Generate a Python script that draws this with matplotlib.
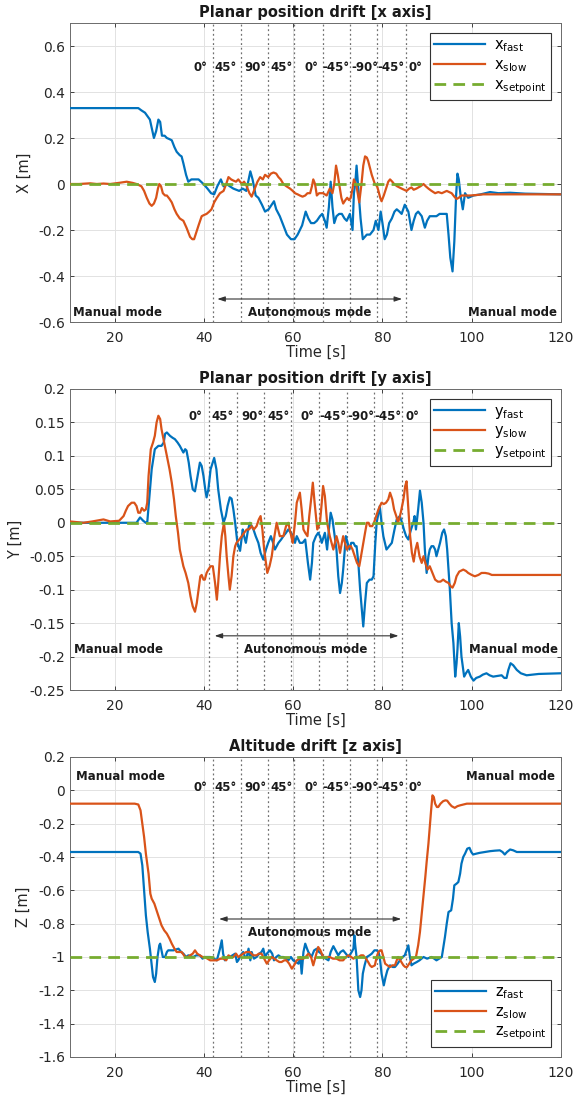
import matplotlib
matplotlib.use("Agg")
import matplotlib.pyplot as plt

plt.rcParams['font.family'] = ['DejaVu Sans']
plt.rcParams['axes.unicode_minus'] = False

# ---------------- data: panel 1 (x axis) ----------------
x_fast_t = [10, 25.3, 26.0, 26.8, 27.9, 28.8, 29.3, 29.8, 30.2, 30.6, 31.2, 31.7, 32.3, 32.8, 33.4, 33.9, 34.6, 35.0, 35.4, 36.0, 36.5, 37.2, 37.8, 38.8, 39.9, 40.8, 41.6, 42.3, 43.0, 43.8, 44.4, 45.1, 45.8, 46.6, 47.9, 48.7, 49.5, 50.4, 50.9, 51.6, 52.2, 53.0, 53.7, 54.5, 55.2, 55.7, 56.2, 57.0, 57.8, 58.6, 59.5, 60.3, 61.0, 61.5, 62.0, 62.8, 63.4, 64.0, 64.7, 65.3, 66.0, 66.5, 67.1, 67.5, 68.0, 68.4, 68.8, 69.2, 69.7, 70.3, 70.9, 71.5, 72.0, 72.7, 73.3, 73.6, 73.9, 74.2, 74.7, 75.1, 75.6, 76.5, 77.2, 78.0, 78.5, 79.1, 79.6, 80.0, 80.5, 81.0, 81.5, 82.1, 82.7, 83.2, 83.8, 84.3, 85.0, 85.8, 86.5, 87.0, 87.5, 88.0, 88.8, 89.5, 90.0, 90.6, 91.3, 92.1, 92.8, 93.6, 94.4, 94.8, 95.2, 95.7, 96.1, 96.5, 96.8, 97.1, 97.5, 98.0, 98.5, 99.2, 100.4, 102.0, 104.1, 106.0, 108.6, 112, 120]
x_fast_v = [0.33, 0.33, 0.32, 0.31, 0.28, 0.20, 0.23, 0.28, 0.27, 0.21, 0.21, 0.20, 0.195, 0.19, 0.16, 0.14, 0.125, 0.12, 0.09, 0.04, 0.01, 0.02, 0.02, 0.02, 0.0, -0.02, -0.04, -0.045, -0.01, 0.02, -0.01, 0.0, -0.01, -0.02, -0.03, -0.02, -0.03, 0.055, 0.02, -0.05, -0.06, -0.09, -0.12, -0.11, -0.09, -0.075, -0.11, -0.14, -0.18, -0.22, -0.24, -0.24, -0.22, -0.20, -0.18, -0.12, -0.15, -0.17, -0.17, -0.16, -0.14, -0.13, -0.16, -0.19, -0.1, 0.01, -0.1, -0.17, -0.14, -0.13, -0.13, -0.15, -0.16, -0.13, -0.2, -0.04, 0.0, 0.08, -0.05, -0.15, -0.24, -0.22, -0.22, -0.2, -0.16, -0.2, -0.12, -0.17, -0.24, -0.22, -0.17, -0.15, -0.12, -0.11, -0.12, -0.13, -0.09, -0.12, -0.2, -0.16, -0.13, -0.12, -0.14, -0.19, -0.16, -0.14, -0.14, -0.14, -0.13, -0.13, -0.13, -0.22, -0.32, -0.38, -0.25, -0.05, 0.045, 0.02, -0.05, -0.11, -0.04, -0.06, -0.05, -0.045, -0.035, -0.04, -0.038, -0.042, -0.045]

x_slow_t = [10, 12, 14.5, 16, 17.5, 19, 21, 22.7, 24.0, 24.9, 26.0, 26.6, 27.2, 27.8, 28.3, 28.8, 29.3, 29.7, 30.0, 30.4, 30.8, 31.3, 31.7, 32.3, 32.8, 33.4, 33.9, 34.6, 35.4, 36.1, 36.9, 37.4, 37.8, 38.3, 38.8, 39.5, 40.0, 40.6, 41.2, 41.7, 42.3, 42.9, 43.6, 44.4, 45.0, 45.5, 46.1, 46.6, 47.2, 47.7, 48.5, 49.0, 49.6, 50.2, 50.7, 51.4, 52.0, 52.6, 53.2, 53.7, 54.4, 55.0, 55.6, 56.2, 56.7, 57.2, 57.8, 58.5, 59.3, 59.9, 60.4, 61.0, 61.5, 62.1, 62.7, 63.2, 63.8, 64.2, 64.5, 64.9, 65.3, 65.8, 66.7, 67.5, 68.2, 68.8, 69.2, 69.6, 70.0, 70.3, 70.8, 71.2, 71.7, 72.1, 72.5, 72.9, 73.3, 73.6, 74.2, 74.8, 75.3, 75.7, 76.1, 76.5, 76.8, 77.2, 77.6, 78.3, 78.8, 79.1, 79.5, 79.8, 80.3, 80.8, 81.3, 81.7, 82.2, 82.6, 83.3, 84.3, 85.4, 86.0, 86.5, 87.0, 87.6, 88.5, 89.2, 89.7, 90.3, 91.0, 91.8, 92.5, 93.3, 94.4, 95.5, 96.1, 96.6, 97.1, 97.7, 98.6, 99.6, 101, 102.6, 110, 120]
x_slow_v = [0.0, 0.0, 0.003, 0.0, 0.002, 0.0, 0.005, 0.01, 0.005, 0.0, -0.01, -0.03, -0.06, -0.085, -0.095, -0.085, -0.06, -0.02, 0.0, -0.01, -0.04, -0.05, -0.05, -0.065, -0.08, -0.11, -0.13, -0.15, -0.16, -0.19, -0.23, -0.24, -0.24, -0.21, -0.18, -0.14, -0.135, -0.13, -0.12, -0.11, -0.08, -0.06, -0.04, -0.03, 0.0, 0.03, 0.02, 0.015, 0.01, 0.02, 0.0, 0.01, -0.01, -0.04, -0.055, -0.02, 0.01, 0.03, 0.02, 0.04, 0.03, 0.045, 0.05, 0.045, 0.03, 0.02, 0.0, -0.01, -0.02, -0.03, -0.04, -0.045, -0.05, -0.055, -0.05, -0.04, -0.04, -0.01, 0.02, 0.0, -0.05, -0.04, -0.04, -0.05, -0.02, -0.04, 0.0, 0.08, 0.04, 0.0, -0.06, -0.085, -0.07, -0.06, -0.07, -0.06, -0.02, 0.02, -0.01, -0.08, 0.0, 0.08, 0.12, 0.115, 0.10, 0.07, 0.04, 0.0, -0.01, -0.03, -0.06, -0.075, -0.05, -0.02, 0.01, 0.02, 0.01, 0.0, -0.01, -0.02, -0.03, -0.02, -0.015, -0.025, -0.02, -0.01, 0.0, -0.01, -0.02, -0.03, -0.04, -0.035, -0.04, -0.03, -0.04, -0.055, -0.065, -0.06, -0.05, -0.05, -0.05, -0.048, -0.045, -0.045, -0.045]

# ---------------- data: panel 2 (y axis) ----------------
y_fast_t = [10, 14, 18, 22, 24.9, 25.7, 26.4, 27.0, 27.3, 27.8, 28.3, 29.0, 29.8, 30.5, 31.0, 31.3, 31.7, 32.4, 33.0, 33.5, 34.1, 34.6, 35.4, 35.8, 36.1, 36.6, 37.0, 37.5, 38.0, 38.6, 39.1, 39.5, 39.9, 40.3, 40.6, 41.0, 41.5, 42.3, 42.8, 43.2, 43.8, 44.4, 44.9, 45.3, 45.8, 46.2, 46.6, 47.0, 47.5, 48.1, 48.7, 49.0, 49.4, 49.9, 50.3, 50.7, 51.1, 51.6, 52.2, 52.7, 53.3, 53.9, 54.4, 55.0, 55.5, 55.9, 56.3, 56.7, 57.3, 57.8, 58.4, 58.9, 59.5, 60.0, 60.4, 60.8, 61.5, 62.1, 62.7, 63.3, 63.8, 64.2, 64.5, 65.1, 65.6, 66.0, 66.4, 67.1, 67.6, 68.0, 68.4, 68.8, 69.1, 69.7, 70.1, 70.5, 70.9, 71.2, 71.8, 72.2, 72.6, 73.0, 73.5, 73.9, 74.2, 74.6, 75.0, 75.7, 76.1, 76.5, 77.1, 77.6, 78.0, 78.4, 78.7, 79.4, 79.8, 80.2, 80.9, 81.5, 82.1, 82.7, 83.2, 83.9, 84.4, 84.8, 85.3, 85.8, 86.4, 86.9, 87.2, 87.5, 88.0, 88.4, 88.8, 89.2, 89.5, 89.9, 90.3, 90.6, 91.0, 91.4, 91.8, 92.1, 92.5, 92.9, 93.4, 93.8, 94.2, 94.5, 95.1, 95.5, 95.9, 96.3, 96.6, 96.8, 97.1, 97.4, 97.7, 98.3, 98.7, 99.2, 99.8, 100.4, 101.0, 101.8, 102.5, 103.3, 104.0, 104.8, 105.7, 106.7, 107.3, 107.8, 108.2, 108.7, 109.3, 110.1, 111.0, 112.3, 115, 120]
y_fast_v = [0.0, 0.0, 0.0, 0.0, 0.0, 0.008, 0.003, 0.0, 0.0, 0.04, 0.08, 0.11, 0.115, 0.115, 0.12, 0.133, 0.135, 0.13, 0.127, 0.125, 0.12, 0.115, 0.105, 0.11, 0.108, 0.09, 0.07, 0.05, 0.047, 0.07, 0.09, 0.085, 0.07, 0.05, 0.038, 0.05, 0.08, 0.097, 0.08, 0.05, 0.02, 0.0, 0.01, 0.025, 0.038, 0.036, 0.02, 0.0, -0.03, -0.042, -0.01, -0.02, -0.03, -0.01, 0.0, -0.005, -0.01, -0.02, -0.03, -0.045, -0.055, -0.04, -0.03, -0.02, -0.03, -0.04, -0.035, -0.03, -0.025, -0.02, -0.015, -0.01, -0.015, -0.02, -0.03, -0.02, -0.03, -0.03, -0.025, -0.06, -0.085, -0.06, -0.03, -0.02, -0.015, -0.02, -0.03, -0.015, -0.04, -0.01, 0.015, 0.005, -0.01, -0.04, -0.08, -0.105, -0.09, -0.07, -0.02, -0.03, -0.04, -0.03, -0.03, -0.035, -0.035, -0.06, -0.1, -0.155, -0.12, -0.09, -0.085, -0.085, -0.08, -0.03, 0.0, 0.025, 0.0, -0.02, -0.04, -0.035, -0.03, -0.01, 0.005, 0.01, 0.0, -0.01, -0.02, -0.025, -0.01, 0.0, 0.01, -0.01, 0.02, 0.048, 0.03, 0.0, -0.04, -0.075, -0.05, -0.04, -0.035, -0.035, -0.04, -0.05, -0.04, -0.03, -0.015, -0.01, -0.02, -0.04, -0.1, -0.15, -0.18, -0.23, -0.21, -0.19, -0.15, -0.17, -0.2, -0.23, -0.225, -0.22, -0.23, -0.236, -0.232, -0.23, -0.227, -0.225, -0.228, -0.23, -0.229, -0.228, -0.232, -0.232, -0.22, -0.21, -0.213, -0.22, -0.225, -0.228, -0.226, -0.225]

y_slow_t = [10, 13, 15, 17.5, 19, 21, 22.0, 22.5, 23.0, 23.8, 24.4, 24.9, 25.3, 25.7, 26.1, 26.6, 27.0, 27.3, 27.6, 28.1, 28.6, 29.0, 29.4, 29.8, 30.2, 30.5, 31.1, 31.7, 32.3, 32.8, 33.3, 33.7, 34.2, 34.6, 35.4, 35.9, 36.5, 37.0, 37.5, 38.0, 38.4, 38.8, 39.2, 39.5, 39.9, 40.2, 40.6, 41.0, 41.5, 42.0, 42.5, 42.9, 43.2, 43.6, 44.0, 44.5, 44.8, 45.1, 45.5, 45.8, 46.2, 46.6, 47.0, 47.3, 47.9, 48.5, 49.0, 49.6, 50.1, 50.7, 51.2, 51.8, 52.3, 52.7, 53.1, 53.5, 54.2, 54.7, 55.2, 55.8, 56.3, 57.0, 57.8, 58.4, 58.9, 59.4, 59.9, 60.4, 60.8, 61.5, 61.9, 62.3, 62.7, 63.2, 63.6, 64.1, 64.4, 64.8, 65.4, 66.0, 66.4, 66.7, 67.1, 67.6, 68.2, 68.6, 69.0, 69.7, 70.1, 70.5, 70.9, 71.2, 71.6, 72.0, 72.5, 72.9, 73.3, 73.8, 74.3, 74.8, 75.2, 75.7, 76.1, 76.5, 76.9, 77.2, 77.7, 78.1, 78.6, 79.1, 79.8, 80.3, 80.8, 81.3, 81.7, 82.2, 82.6, 83.1, 83.5, 84.1, 84.7, 85.1, 85.4, 85.8, 86.2, 86.6, 87.0, 87.4, 87.8, 88.3, 88.8, 89.2, 89.6, 90.1, 90.6, 91.2, 91.8, 92.4, 93.0, 93.6, 94.2, 94.8, 95.3, 95.7, 96.2, 96.6, 97.2, 98.1, 98.7, 99.2, 100.0, 100.7, 101.5, 102.2, 103.0, 103.8, 104.5, 110, 120]
y_slow_v = [0.002, 0.0, 0.002, 0.005, 0.002, 0.003, 0.01, 0.018, 0.025, 0.03, 0.03, 0.025, 0.015, 0.015, 0.022, 0.018, 0.02, 0.03, 0.07, 0.11, 0.12, 0.13, 0.15, 0.16, 0.155, 0.14, 0.12, 0.10, 0.08, 0.06, 0.035, 0.01, -0.015, -0.04, -0.065, -0.075, -0.09, -0.11, -0.125, -0.133, -0.12, -0.1, -0.08, -0.078, -0.085, -0.085, -0.075, -0.07, -0.065, -0.065, -0.09, -0.115, -0.09, -0.05, -0.02, 0.0, -0.02, -0.05, -0.08, -0.1, -0.08, -0.05, -0.035, -0.03, -0.025, -0.02, -0.015, -0.01, -0.01, -0.005, -0.01, -0.005, 0.005, 0.01, -0.01, -0.04, -0.075, -0.065, -0.05, -0.02, 0.0, -0.02, -0.02, -0.005, 0.0, -0.015, -0.03, 0.0, 0.03, 0.045, 0.02, -0.01, -0.015, -0.02, 0.01, 0.04, 0.06, 0.03, -0.01, 0.0, 0.03, 0.055, 0.04, 0.0, -0.02, -0.03, -0.04, -0.02, -0.03, -0.045, -0.03, -0.02, -0.03, -0.04, -0.035, -0.035, -0.04, -0.05, -0.06, -0.065, -0.05, -0.03, -0.015, 0.0, 0.0, -0.005, -0.005, 0.0, 0.01, 0.02, 0.03, 0.028, 0.03, 0.035, 0.045, 0.035, 0.02, 0.01, 0.0, 0.015, 0.035, 0.055, 0.062, 0.02, -0.02, -0.045, -0.058, -0.04, -0.03, -0.05, -0.06, -0.05, -0.06, -0.07, -0.065, -0.075, -0.085, -0.088, -0.088, -0.085, -0.088, -0.09, -0.095, -0.097, -0.09, -0.08, -0.073, -0.07, -0.072, -0.075, -0.078, -0.08, -0.078, -0.075, -0.075, -0.076, -0.078, -0.078, -0.078]

# ---------------- data: panel 3 (z axis) ----------------
z_fast_t = [10, 25.3, 25.8, 26.2, 26.6, 27.0, 27.4, 27.9, 28.3, 28.6, 29.0, 29.3, 29.6, 30.0, 30.2, 30.5, 30.8, 31.3, 31.7, 32.0, 33.2, 34.3, 34.9, 35.4, 36.0, 36.5, 37.6, 38.3, 39.1, 39.7, 40.2, 41.4, 42.3, 42.9, 43.3, 43.6, 44.0, 44.3, 44.7, 45.2, 45.8, 46.4, 47.0, 47.4, 47.7, 48.2, 48.8, 49.2, 49.6, 50.0, 50.4, 50.7, 51.2, 51.8, 52.4, 52.9, 53.3, 53.7, 54.1, 54.8, 55.3, 55.7, 56.2, 56.7, 57.2, 57.8, 58.4, 58.9, 59.5, 60.0, 60.6, 61.2, 61.6, 61.9, 62.3, 62.7, 63.1, 63.4, 64.1, 64.7, 65.3, 65.8, 66.3, 66.7, 67.3, 67.9, 68.4, 69.0, 69.5, 70.1, 70.6, 71.2, 71.8, 72.4, 73.1, 73.5, 73.7, 73.9, 74.2, 74.6, 75.0, 75.3, 75.6, 76.0, 76.5, 77.1, 77.6, 78.2, 78.7, 79.1, 79.4, 79.8, 80.3, 80.7, 81.1, 81.7, 82.3, 82.8, 83.4, 83.9, 84.5, 85.0, 85.4, 85.8, 86.1, 86.5, 87.0, 87.7, 88.3, 89.2, 90.0, 91.0, 91.6, 92.1, 92.7, 93.3, 93.6, 94.0, 94.4, 94.8, 95.4, 95.8, 96.1, 96.6, 97.0, 97.4, 97.7, 98.1, 98.5, 99.0, 99.5, 99.9, 100.3, 101.0, 101.8, 103.0, 104.1, 105.2, 106.3, 106.9, 107.4, 107.9, 108.6, 109.3, 110.1, 112, 120]
z_fast_v = [-0.37, -0.37, -0.38, -0.45, -0.6, -0.75, -0.85, -0.95, -1.05, -1.12, -1.15, -1.1, -1.0, -0.93, -0.92, -0.96, -1.0, -1.0, -0.97, -0.96, -0.96, -0.95, -0.97, -0.98, -1.0, -0.99, -1.0, -0.99, -0.99, -1.01, -1.0, -1.0, -1.01, -1.02, -0.98, -0.95, -0.9, -0.98, -1.02, -1.0, -1.0, -0.99, -0.98, -1.03, -1.02, -0.99, -0.97, -1.0, -1.0, -0.95, -1.02, -0.97, -1.01, -1.0, -0.98, -0.97, -0.95, -1.0, -0.98, -0.96, -0.98, -1.02, -1.0, -0.99, -1.0, -1.0, -1.01, -1.02, -1.0, -1.02, -1.03, -1.04, -1.0, -1.1, -0.97, -0.92, -0.95, -0.97, -1.0, -0.96, -0.95, -0.97, -0.98, -1.0, -1.01, -1.02, -0.97, -0.935, -0.96, -0.99, -0.97, -0.96, -0.98, -1.0, -0.97, -0.95, -0.87, -0.93, -1.0, -1.2, -1.24, -1.2, -1.1, -1.05, -1.0, -0.99, -0.98, -0.96, -0.96, -0.97, -1.0, -1.1, -1.17, -1.12, -1.08, -1.05, -1.06, -1.06, -1.04, -1.02, -1.0, -0.99, -0.96, -0.93, -0.99, -1.05, -1.04, -1.03, -1.02, -1.0, -1.01, -1.0, -1.01, -1.02, -1.01, -1.0, -0.95, -0.88, -0.8, -0.73, -0.72, -0.65, -0.57, -0.56, -0.55, -0.5, -0.44, -0.4, -0.38, -0.35, -0.345, -0.37, -0.385, -0.38, -0.375, -0.37, -0.365, -0.362, -0.36, -0.37, -0.385, -0.37, -0.355, -0.36, -0.37, -0.37, -0.37]

z_slow_t = [10, 24.5, 25.3, 25.8, 26.2, 26.6, 27.0, 27.6, 28.0, 28.3, 28.9, 29.4, 30.0, 30.5, 31.1, 31.7, 32.3, 32.8, 33.4, 33.9, 34.5, 35.0, 35.8, 36.4, 36.9, 37.5, 38.0, 38.5, 39.1, 39.7, 40.2, 40.8, 41.4, 42.2, 42.9, 43.7, 44.4, 45.0, 45.5, 46.1, 46.6, 47.2, 47.7, 48.3, 48.8, 49.5, 50.3, 51.0, 51.8, 52.3, 52.9, 53.5, 54.1, 54.6, 55.2, 55.8, 56.3, 56.9, 57.4, 58.0, 58.5, 59.1, 59.7, 60.2, 60.8, 61.5, 62.3, 62.8, 63.4, 64.0, 64.5, 65.0, 65.6, 66.1, 66.7, 67.4, 68.2, 68.9, 69.7, 70.4, 71.2, 71.8, 72.4, 73.0, 73.5, 74.1, 74.6, 75.2, 75.7, 76.3, 76.8, 77.2, 77.6, 78.3, 78.7, 79.1, 79.5, 79.8, 80.2, 80.6, 81.1, 81.7, 82.2, 82.8, 83.2, 83.5, 84.0, 84.7, 85.1, 85.5, 86.0, 86.5, 87.0, 87.5, 88.0, 88.4, 88.8, 89.2, 89.6, 89.9, 90.3, 90.6, 90.9, 91.2, 91.5, 91.8, 92.2, 92.5, 93.0, 93.6, 94.1, 94.5, 95.0, 95.5, 96.2, 96.8, 97.4, 98.2, 98.9, 100.4, 110, 120]
z_slow_v = [-0.08, -0.08, -0.085, -0.12, -0.2, -0.28, -0.38, -0.5, -0.62, -0.65, -0.68, -0.72, -0.77, -0.81, -0.84, -0.86, -0.89, -0.92, -0.95, -0.97, -0.97, -0.97, -1.0, -1.0, -0.99, -0.98, -0.96, -0.98, -0.99, -1.0, -1.0, -1.01, -1.02, -1.02, -1.02, -1.01, -1.01, -1.02, -0.99, -1.0, -1.0, -0.98, -1.0, -0.99, -0.98, -0.97, -0.97, -0.99, -0.99, -0.98, -0.98, -1.01, -1.04, -1.02, -1.0, -1.01, -1.02, -1.03, -1.03, -1.02, -1.02, -1.04, -1.07, -1.05, -1.02, -1.01, -1.01, -1.0, -0.98, -1.0, -1.05, -1.0, -0.94, -0.96, -1.0, -1.0, -1.0, -1.01, -1.01, -1.02, -1.02, -1.0, -0.99, -1.0, -1.01, -1.0, -1.0, -0.99, -0.99, -1.01, -1.03, -1.05, -1.06, -1.05, -1.0, -0.97, -0.96, -0.96, -1.0, -1.04, -1.05, -1.06, -1.05, -1.05, -1.02, -1.0, -1.02, -1.05, -1.06, -1.06, -1.04, -1.02, -1.01, -1.0, -0.93, -0.85, -0.74, -0.63, -0.52, -0.43, -0.32, -0.22, -0.12, -0.03, -0.04, -0.08, -0.1, -0.1, -0.08, -0.065, -0.06, -0.062, -0.08, -0.095, -0.105, -0.095, -0.09, -0.085, -0.08, -0.08, -0.08, -0.08]

# ---------------- annotations ----------------
heading_labels = ["0°", "45°", "90°", "45°", "0°", "-45°", "-90°", "-45°", "0°"]
seg_lines_1 = [42.1, 48.3, 54.3, 60.2, 66.6, 72.8, 78.8, 85.2]
seg_lines_2 = [41.1, 47.5, 53.4, 59.6, 65.7, 72.1, 78.2, 84.4]
seg_lines_3 = [42.1, 48.3, 54.3, 60.2, 66.6, 72.8, 78.8, 85.2]
label_pos_1 = [39.3, 44.8, 51.6, 57.4, 64.0, 69.5, 76.0, 82.0, 87.3]
label_pos_2 = [38.0, 44.2, 50.8, 56.7, 63.2, 68.9, 75.1, 81.3, 86.7]
label_pos_3 = [39.3, 44.8, 51.6, 57.4, 64.0, 69.5, 76.0, 82.0, 87.3]

BLUE = '#0072BD'
ORANGE = '#D95319'
GREEN = '#77AC30'
TXT = '#262626'

fig = plt.figure(figsize=(5.76, 11.01), dpi=100)

L, W = 70 / 576, 491 / 576
H = 1101.0
panels = [
    dict(top=23, bot=322, ylim=(-0.6, 0.7), yticks=[-0.6, -0.4, -0.2, 0, 0.2, 0.4, 0.6],
         title='Planar position drift [x axis]', ylabel='X [m]', var='x',
         fast=(x_fast_t, x_fast_v), slow=(x_slow_t, x_slow_v),
         lines=seg_lines_1, lpos=label_pos_1, ly=0.505,
         arrow=(43.0, 84.4, -0.50), auto=(63.8, -0.557),
         man_l=(10.6, -0.557), man_r=(119.2, -0.557), legloc='upper right'),
    dict(top=389, bot=690, ylim=(-0.25, 0.2), yticks=[-0.25, -0.2, -0.15, -0.1, -0.05, 0, 0.05, 0.1, 0.15, 0.2],
         title='Planar position drift [y axis]', ylabel='Y [m]', var='y',
         fast=(y_fast_t, y_fast_v), slow=(y_slow_t, y_slow_v),
         lines=seg_lines_2, lpos=label_pos_2, ly=0.159,
         arrow=(42.4, 83.6, -0.169), auto=(62.9, -0.189),
         man_l=(11.0, -0.189), man_r=(119.4, -0.189), legloc='upper right'),
    dict(top=757, bot=1057, ylim=(-1.6, 0.2), yticks=[-1.6, -1.4, -1.2, -1, -0.8, -0.6, -0.4, -0.2, 0, 0.2],
         title='Altitude drift [z axis]', ylabel='Z [m]', var='z',
         fast=(z_fast_t, z_fast_v), slow=(z_slow_t, z_slow_v),
         lines=seg_lines_3, lpos=label_pos_3, ly=0.015,
         arrow=(43.4, 84.2, -0.772), auto=(63.7, -0.85),
         man_l=(11.4, 0.08), man_r=(118.6, 0.08), legloc='lower right'),
]

ann_kw = dict(fontsize=8.5, fontweight='bold', color='#1a1a1a')

for p in panels:
    ax = fig.add_axes([L, 1 - p['bot'] / H, W, (p['bot'] - p['top']) / H])
    ax.set_xlim(10, 120)
    ax.set_ylim(*p['ylim'])
    ax.set_xticks([20, 40, 60, 80, 100, 120])
    ax.set_yticks(p['yticks'])
    ax.set_yticklabels(['%g' % v for v in p['yticks']])
    ax.grid(True, color='#e2e2e2', linewidth=0.7)
    ax.set_axisbelow(True)
    ax.tick_params(direction='in', length=3, width=0.6, colors=TXT, labelsize=10,
                   top=True, right=True)
    ax.tick_params(axis='x', pad=6.5)
    for s in ax.spines.values():
        s.set_color('#6b6b6b')
        s.set_linewidth(0.7)

    for xl in p['lines']:
        ax.axvline(xl, color='#707070', linestyle=(0, (1.5, 2.2)), linewidth=0.9, zorder=1)

    v = p['var']
    ax.plot(*p['fast'], color=BLUE, linewidth=1.6, label=r'$\mathregular{%s_{fast}}$' % v, zorder=3)
    ax.plot(*p['slow'], color=ORANGE, linewidth=1.6, label=r'$\mathregular{%s_{slow}}$' % v, zorder=3)
    sp = -1 if v == 'z' else 0
    ax.plot([10, 120], [sp, sp], color=GREEN,
            linewidth=2.0, dashes=(4.2, 2.6), label=r'$\mathregular{%s_{setpoint}}$' % v, zorder=4)

    for lab, xp in zip(heading_labels, p['lpos']):
        ax.text(xp, p['ly'], lab, ha='center', va='center', **ann_kw)

    a0, a1, ay = p['arrow']
    ax.annotate('', xy=(a0, ay), xytext=(a1, ay),
                arrowprops=dict(arrowstyle='<|-|>,head_length=0.45,head_width=0.15',
                                color='#333333', lw=0.8, shrinkA=0, shrinkB=0))
    ax.text(p['auto'][0], p['auto'][1], 'Autonomous mode', ha='center', va='center', **ann_kw)
    ax.text(p['man_l'][0], p['man_l'][1], 'Manual mode', ha='left', va='center', **ann_kw)
    ax.text(p['man_r'][0], p['man_r'][1], 'Manual mode', ha='right', va='center', **ann_kw)

    ax.set_title(p['title'], fontsize=10.5, fontweight='bold', color='#1a1a1a', pad=4)
    ax.set_xlabel('Time [s]', fontsize=10.5, color=TXT, labelpad=0)
    ax.set_ylabel(p['ylabel'], fontsize=10.5, color=TXT, labelpad=5)

    leg = ax.legend(loc=p['legloc'], fontsize=10.5, handlelength=3.5, fancybox=False,
                    framealpha=1, edgecolor='#333333', borderpad=0.3, labelspacing=0.2,
                    borderaxespad=0.7, handletextpad=0.6)
    leg.get_frame().set_linewidth(0.8)

fig.savefig('out.png', dpi=100)
